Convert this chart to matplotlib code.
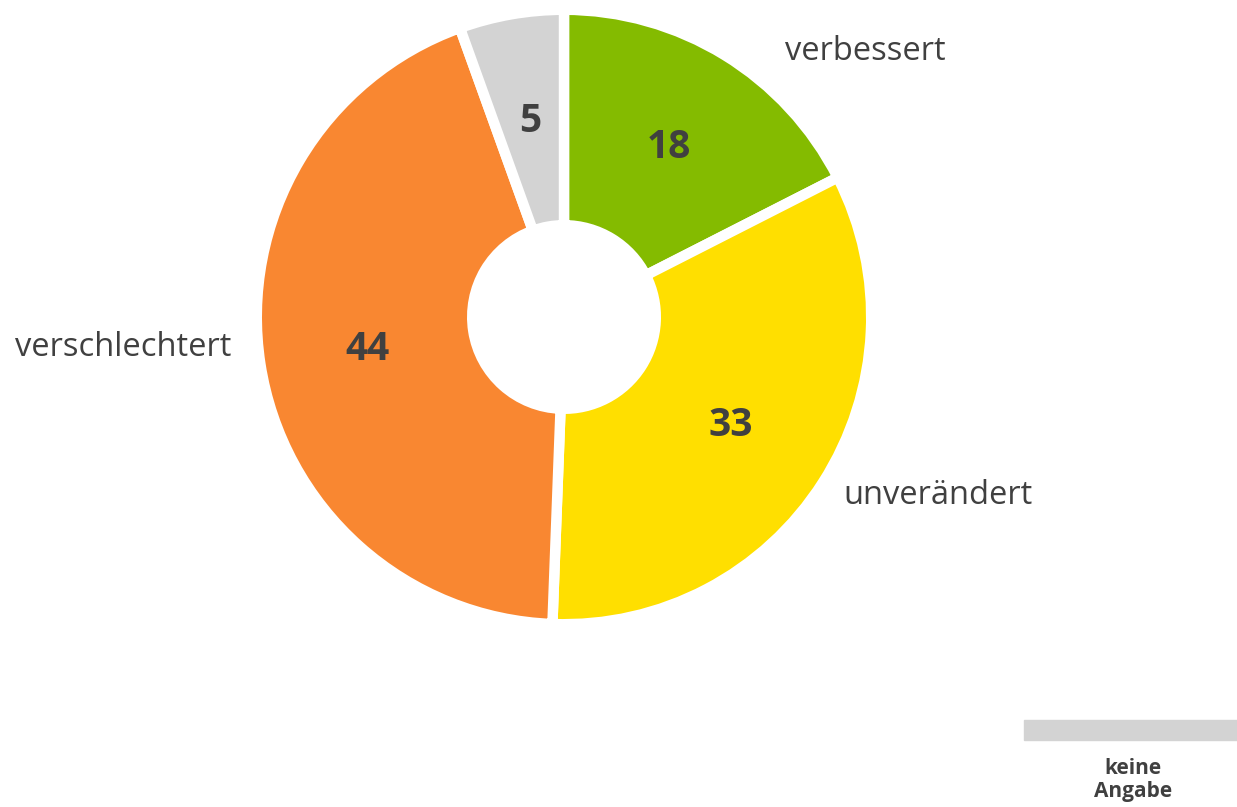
import matplotlib.pyplot as plt
from matplotlib.patches import Rectangle

# Anteile der Segmente (im Uhrzeigersinn ab 12 Uhr), Beschriftung gerundet
kategorien = ['verbessert', 'unverändert', 'verschlechtert', 'keine Angabe']
werte = [17.5, 33.1, 43.9, 5.5]
beschriftung = ['18', '33', '44', '5']
farben = ['#84BB00', '#FFDF00', '#F98731', '#D3D3D3']

plt.rcParams['font.family'] = ['Open Sans', 'DejaVu Sans']
textfarbe = '#404040'

W, H = 1237, 807
fig = plt.figure(figsize=(W / 100, H / 100), dpi=100)
ax = fig.add_axes([0, 0, 1, 1])

cx, cy = 564, H - 317
lw = 7.5
r = 302 + lw * 100 / 72 / 2
r_innen = 97 - lw * 100 / 72 / 2
wedges, _ = ax.pie(werte, colors=farben, startangle=90, counterclock=False,
                   center=(cx, cy), radius=r, frame=True,
                   wedgeprops=dict(width=r - r_innen, edgecolor='white', linewidth=lw))
ax.set_xlim(0, W)
ax.set_ylim(0, H)
ax.set_aspect('equal')
ax.axis('off')

# Zahlen in den Segmenten
zahl_pos = [(669, 148), (731, 425), (367, 350), (530, 122)]
for txt, (x, y) in zip(beschriftung, zahl_pos):
    ax.text(x, H - y, txt, ha='center', va='center', fontsize=28,
            fontweight='bold', color=textfarbe)

# Beschriftungen
ax.text(785, H - 52, kategorien[0], ha='left', va='center', fontsize=23.5, color=textfarbe)
ax.text(843, H - 495, kategorien[1], ha='left', va='center', fontsize=23.5, color=textfarbe)
ax.text(231, H - 348, kategorien[2], ha='right', va='center', fontsize=23.5, color=textfarbe)

# Legende unten rechts
ax.add_patch(Rectangle((1024, H - 740), 213, 20, color='#D3D3D3', clip_on=False))
ax.text(1133, H - 780, 'keine\nAngabe', ha='center', va='center', fontsize=15,
        fontweight='bold', color=textfarbe, linespacing=1.15)

fig.savefig('out.png', dpi=100)
